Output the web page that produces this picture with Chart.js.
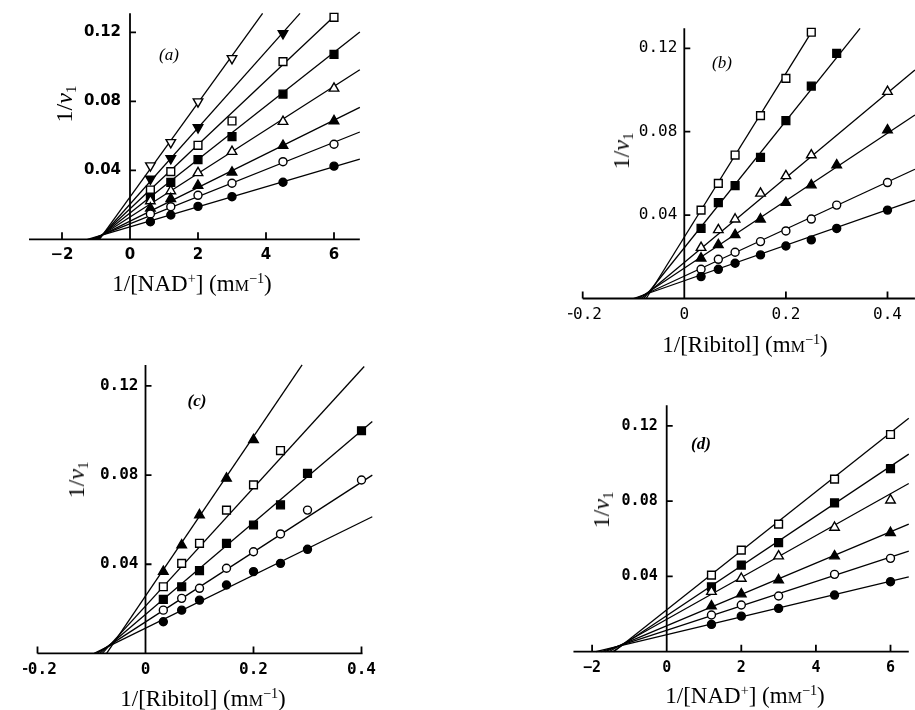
<!DOCTYPE html>
<html>
<head>
<meta charset="utf-8">
<script src="https://cdn.jsdelivr.net/npm/chart.js@4.4.1/dist/chart.umd.min.js"></script>
<style>
body { margin: 0; width: 915px; height: 710px; position: relative; overflow: hidden; background: #fff;
       font-family: "Liberation Serif", "DejaVu Serif", serif; color: #000; }
canvas { position: absolute; }
.lab { position: absolute; transform: translate(-50%, -50%); white-space: nowrap; line-height: 1; }
.xt { font-size: 23px; }
.yt { font-size: 24px; transform: translate(-50%, -50%) rotate(-90deg); }
.tag { font-size: 17px; font-style: italic; }
.bold { font-weight: bold; }
sup { font-size: 0.62em; vertical-align: 0.55em; line-height: 0; }
sub { font-size: 0.62em; vertical-align: -0.3em; line-height: 0; }
.sc { font-variant: small-caps; }
</style>
</head>
<body>
<canvas id="chartA"></canvas>
<canvas id="chartB"></canvas>
<canvas id="chartC"></canvas>
<canvas id="chartD"></canvas>

<div class="lab tag" style="left:169px;top:54px">(a)</div>
<div class="lab tag" style="left:722px;top:62px">(b)</div>
<div class="lab tag bold" style="left:197px;top:400px">(c)</div>
<div class="lab tag bold" style="left:701px;top:443px">(d)</div>

<div class="lab yt" style="left:64px;top:104px">1/<i>v</i><sub>1</sub></div>
<div class="lab yt" style="left:621px;top:151px">1/<i>v</i><sub>1</sub></div>
<div class="lab yt" style="left:76px;top:480px">1/<i>v</i><sub>1</sub></div>
<div class="lab yt" style="left:601px;top:510px">1/<i>v</i><sub>1</sub></div>

<div class="lab xt" style="left:192px;top:283px">1/[NAD<sup>+</sup>] (m<span class="sc">m</span><sup>−1</sup>)</div>
<div class="lab xt" style="left:745px;top:344px">1/[Ribitol] (m<span class="sc">m</span><sup>−1</sup>)</div>
<div class="lab xt" style="left:203px;top:698px">1/[Ribitol] (m<span class="sc">m</span><sup>−1</sup>)</div>
<div class="lab xt" style="left:745px;top:695px">1/[NAD<sup>+</sup>] (m<span class="sc">m</span><sup>−1</sup>)</div>

<script>
// panel (a): 1/v1 against 1/[NAD+]
const aX = [0.6, 1.2, 2, 3, 4.5, 6];
const aFilledCircle = [0.0102, 0.0141, 0.0191, 0.0247, 0.0331, 0.0424];
const aOpenCircle = [0.0147, 0.0189, 0.0255, 0.0325, 0.0450, 0.0551];
const aFilledTri = [0.0180, 0.0235, 0.0312, 0.0388, 0.0543, 0.0686];
const aOpenTri = [0.0222, 0.0280, 0.0385, 0.0508, 0.0682, 0.0875];
const aFilledSq = [0.0245, 0.0330, 0.0462, 0.0595, 0.0842, 0.1072];
const aOpenSq = [0.0286, 0.0392, 0.0545, 0.0686, 0.1030, 0.1287];
const aFilledDown = [0.0350, 0.0469, 0.0648, null, 0.1194, null];
const aOpenDown = [0.0427, 0.0562, 0.0798, 0.1049, null, null];
const aMarks = ['●', '○', '▲', '△', '■', '□', '▼', '▽'];
const aLineFrom = [-1.25, -1.15, -1.08, -1.02, -0.98, -0.95, -0.92, -0.9];
const aLineToX = [6.76, 6.76, 6.76, 6.76, 6.76, 6.1, 5.0, 3.9];
const aLineToY = [0.0465, 0.0622, 0.0765, 0.0983, 0.1202, 0.131, 0.131, 0.131];

// panel (b): 1/v1 against 1/[Ribitol]
const bX = [0.033, 0.067, 0.1, 0.15, 0.2, 0.25, 0.3, 0.4];
const bFilledCircle = [0.0105, 0.0140, 0.0169, 0.0209, 0.0252, 0.0281, 0.0336, 0.0424];
const bOpenCircle = [0.0140, 0.0188, 0.0222, 0.0273, 0.0324, 0.0381, 0.0448, 0.0556];
const bFilledTri = [0.0193, 0.0257, 0.0305, 0.0380, 0.0460, 0.0544, 0.0640, 0.0808];
const bOpenTri = [0.0244, 0.0329, 0.0380, 0.0504, 0.0588, 0.0688, null, 0.0992];
const bFilledSq = [0.0336, 0.0460, 0.0541, 0.0677, 0.0853, 0.1019, 0.1176, null];
const bOpenSq = [0.0424, 0.0552, 0.0688, 0.0877, 0.1056, 0.1277, null, null];
const bMarks = ['●', '○', '▲', '△', '■', '□'];
const bLineFrom = [-0.1, -0.095, -0.09, -0.085, -0.08, -0.075];
const bLineToX = [0.454, 0.454, 0.454, 0.454, 0.346, 0.255];
const bLineToY = [0.0472, 0.062, 0.088, 0.1096, 0.1296, 0.1296];

// panel (c): 1/v1 against 1/[Ribitol]
const cX = [0.033, 0.067, 0.1, 0.15, 0.2, 0.25, 0.3, 0.4];
const cFilledCircle = [0.0142, 0.0194, 0.0239, 0.0307, 0.0367, 0.0404, 0.0467, null];
const cOpenCircle = [0.0194, 0.0247, 0.0292, 0.0382, 0.0456, 0.0536, 0.0643, 0.0778];
const cFilledSq = [0.0242, 0.0299, 0.0371, 0.0494, 0.0576, 0.0666, 0.0808, 0.0999];
const cOpenSq = [0.0299, 0.0404, 0.0494, 0.0643, 0.0756, 0.0910, null, null];
const cFilledTri = [0.0367, 0.0486, 0.0621, 0.0785, 0.0958, null, null, null];
const cMarks = ['●', '○', '■', '□', '▲'];
const cLineFrom = [-0.095, -0.09, -0.085, -0.08, -0.072];
const cLineToX = [0.42, 0.42, 0.42, 0.405, 0.29];
const cLineToY = [0.0613, 0.080, 0.104, 0.1287, 0.1294];

// panel (d): 1/v1 against 1/[NAD+]
const dX = [1.2, 2, 3, 4.5, 6];
const dFilledCircle = [0.0145, 0.0189, 0.0230, 0.0301, 0.0372];
const dOpenCircle = [0.0195, 0.0248, 0.0296, 0.0411, 0.0496];
const dFilledTri = [0.0242, 0.0306, 0.0381, 0.0508, 0.0632];
const dOpenTri = [0.0319, 0.0389, 0.0508, 0.0660, 0.0805];
const dFilledSq = [0.0345, 0.0460, 0.0580, 0.0791, 0.0973];
const dOpenSq = [0.0407, 0.0540, 0.0678, 0.0917, 0.1154];
const dMarks = ['●', '○', '▲', '△', '■', '□'];
const dLineFrom = [-1.9, -1.75, -1.65, -1.55, -1.45, -1.42];
const dLineToX = [6.49, 6.49, 6.49, 6.49, 6.49, 6.49];
const dLineToY = [0.0398, 0.0535, 0.0678, 0.0894, 0.105, 0.124];

// ticks
const nadTicks = [-2, 0, 2, 4, 6];
const nadTickLabels = ['−2', '0', '2', '4', '6'];
const ribTicks = [-0.2, 0, 0.2, 0.4];
const ribTickLabels = ['−0.2', '0', '0.2', '0.4'];
const yTicks = [0.04, 0.08, 0.12];
const yTickLabels = ['0.04', '0.08', '0.12'];

const markStyle = {
    '●': ['circle', true, 0], '○': ['circle', false, 0],
    '▲': ['triangle', true, 0], '△': ['triangle', false, 0],
    '■': ['rect', true, 0], '□': ['rect', false, 0],
    '▼': ['triangle', true, 180], '▽': ['triangle', false, 180]
};

function pointSet(xs, ys, mark) {
    const [style, filled, rot] = markStyle[mark];
    return {
        data: xs.map((x, i) => ({ x: x, y: ys[i] })).filter(p => p.y !== null),
        showLine: false,
        pointStyle: style,
        pointRotation: rot,
        pointRadius: style === 'circle' ? 4 : style === 'rect' ? 5.5 : 5.5,
        pointBackgroundColor: filled ? '#000' : '#fff',
        pointBorderColor: '#000',
        pointBorderWidth: 1.4,
        clip: false
    };
}

function lineSet(x0, x1, y1) {
    return {
        data: [{ x: x0, y: 0 }, { x: x1, y: y1 }],
        showLine: true,
        pointRadius: 0,
        borderColor: '#000',
        borderWidth: 1.3,
        clip: false
    };
}

function axesPlugin(ax) {
    return {
        id: 'inwardAxes',
        beforeDatasetsDraw(chart) {
            const ctx = chart.ctx, xs = chart.scales.x, ys = chart.scales.y;
            const x0 = xs.getPixelForValue(0), y0 = ys.getPixelForValue(0);
            ctx.save();
            ctx.strokeStyle = '#000';
            ctx.lineWidth = 1.8;
            ctx.beginPath();
            ctx.moveTo(xs.getPixelForValue(ax.from), y0);
            ctx.lineTo(xs.getPixelForValue(ax.to), y0);
            ctx.moveTo(x0, y0);
            ctx.lineTo(x0, ys.getPixelForValue(ax.top));
            ax.marks.forEach(v => {
                const p = xs.getPixelForValue(v);
                ctx.moveTo(p, y0);
                ctx.lineTo(p, y0 - 7);
            });
            yTicks.forEach(v => {
                const p = ys.getPixelForValue(v);
                ctx.moveTo(x0, p);
                ctx.lineTo(x0 + 6, p);
            });
            ctx.stroke();
            ctx.fillStyle = '#000';
            ctx.font = ax.font;
            ctx.textAlign = 'center';
            ctx.textBaseline = 'middle';
            ax.ticks.forEach((v, i) => ctx.fillText(ax.labels[i], xs.getPixelForValue(v), y0 + 16));
            ctx.textAlign = 'right';
            yTicks.forEach((v, i) => ctx.fillText(yTickLabels[i], x0 - ax.gap, ys.getPixelForValue(v)));
            ctx.restore();
        }
    };
}

function makeChart(id, g, ax, xs, series, marks, lineFrom, lineToX, lineToY) {
    const canvas = document.getElementById(id);
    const areaLeft = g.originX + g.xMin * g.pxX;
    const areaRight = g.originX + g.xMax * g.pxX;
    const areaTop = g.originY - g.yMax * g.pxY;
    const left = Math.floor(areaLeft) - 14;
    const top = Math.floor(areaTop) - 14;
    const width = Math.ceil(areaRight) + 14 - left;
    const height = Math.ceil(g.originY) + 32 - top;
    canvas.width = width;
    canvas.height = height;
    canvas.style.left = left + 'px';
    canvas.style.top = top + 'px';

    const datasets = series.map((ys, i) => pointSet(xs, ys, marks[i]))
        .concat(series.map((ys, i) => lineSet(lineFrom[i], lineToX[i], lineToY[i])));

    return new Chart(canvas.getContext('2d'), {
        type: 'scatter',
        data: { datasets: datasets },
        options: {
            responsive: false,
            animation: false,
            events: [],
            layout: {
                padding: {
                    left: areaLeft - left,
                    right: width - (areaRight - left),
                    top: areaTop - top,
                    bottom: height - (g.originY - top)
                }
            },
            scales: {
                x: { type: 'linear', min: g.xMin, max: g.xMax, display: false },
                y: { type: 'linear', min: 0, max: g.yMax, display: false }
            },
            plugins: { legend: { display: false }, tooltip: { enabled: false } }
        },
        plugins: [axesPlugin(ax)]
    });
}

makeChart('chartA',
    { originX: 130, originY: 239.3, pxX: 34, pxY: 1725, xMin: -2.97, xMax: 6.76, yMax: 0.131 },
    { from: -2.97, to: 6.76, top: 0.131, marks: [-2, 2, 4, 6], ticks: nadTicks, labels: nadTickLabels,
      font: 'bold 15px "DejaVu Sans"', gap: 9 },
    aX, [aFilledCircle, aOpenCircle, aFilledTri, aOpenTri, aFilledSq, aOpenSq, aFilledDown, aOpenDown],
    aMarks, aLineFrom, aLineToX, aLineToY);

makeChart('chartB',
    { originX: 684.3, originY: 298.5, pxX: 508, pxY: 2085, xMin: -0.2, xMax: 0.454, yMax: 0.1296 },
    { from: -0.2, to: 0.454, top: 0.1296, marks: [-0.2, 0.2, 0.4], ticks: ribTicks, labels: ribTickLabels,
      font: '16px "DejaVu Sans Mono"', gap: 7 },
    bX, [bFilledCircle, bOpenCircle, bFilledTri, bOpenTri, bFilledSq, bOpenSq],
    bMarks, bLineFrom, bLineToX, bLineToY);

makeChart('chartC',
    { originX: 145.5, originY: 653.4, pxX: 540, pxY: 2229, xMin: -0.2, xMax: 0.42, yMax: 0.1294 },
    { from: -0.2, to: 0.402, top: 0.1294, marks: [-0.2, 0.2, 0.4], ticks: ribTicks, labels: ribTickLabels,
      font: 'bold 16px "DejaVu Sans Mono"', gap: 7 },
    cX, [cFilledCircle, cOpenCircle, cFilledSq, cOpenSq, cFilledTri],
    cMarks, cLineFrom, cLineToX, cLineToY);

makeChart('chartD',
    { originX: 666.7, originY: 651.7, pxX: 37.3, pxY: 1882, xMin: -2.5, xMax: 6.49, yMax: 0.131 },
    { from: -2.5, to: 6.49, top: 0.131, marks: [-2, 2, 4, 6], ticks: nadTicks, labels: nadTickLabels,
      font: 'bold 15px "DejaVu Sans Mono"', gap: 9 },
    dX, [dFilledCircle, dOpenCircle, dFilledTri, dOpenTri, dFilledSq, dOpenSq],
    dMarks, dLineFrom, dLineToX, dLineToY);
</script>
</body>
</html>
